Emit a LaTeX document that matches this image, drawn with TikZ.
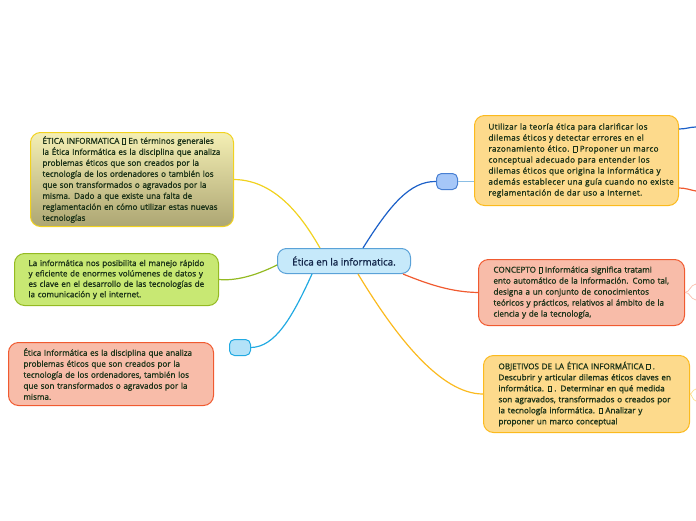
\documentclass[tikz,border=0pt]{standalone}
\usepackage{fontspec}
\setmainfont{Open Sans}
\newfontfamily\boxfont{Open Sans}[FakeBold=1.3]
\newfontfamily\widefont{Open Sans}[FakeBold=1.3, LetterSpace=4]
\definecolor{txt}{HTML}{1C3319}
\definecolor{navy}{HTML}{14284B}
\definecolor{cenfill}{HTML}{C6E9FA}
\definecolor{cenline}{HTML}{5AA2D8}
\definecolor{olivetop}{HTML}{F4EFB4}
\definecolor{olivebot}{HTML}{ADA673}
\definecolor{yelline}{HTML}{F1D21F}
\definecolor{greenfill}{HTML}{C8E873}
\definecolor{greenline}{HTML}{94BA22}
\definecolor{salfill}{HTML}{F8BCA9}
\definecolor{salline}{HTML}{F05A30}
\definecolor{orfill}{HTML}{FDDA8C}
\definecolor{orline}{HTML}{FBBA1E}
\definecolor{bluefill}{HTML}{A6C7F8}
\definecolor{blueline}{HTML}{1C60C8}
\definecolor{skyfill}{HTML}{B3E2F8}
\definecolor{skyline}{HTML}{22AAE2}
\newcommand{\nochar}{{\setlength{\fboxrule}{0.35pt}\setlength{\fboxsep}{0pt}\fbox{\rule{0pt}{0.62em}\hspace{0.36em}}}}
\hyphenpenalty=10000
\begin{document}
\begin{tikzpicture}[x=1pt, y=-1pt,
    box/.style={draw, rounded corners=10pt, line width=1pt, anchor=north west,
                align=left, inner xsep=0pt, inner ysep=0pt, text=txt,
                font=\boxfont\fontsize{8.1}{11}\selectfont},
    tag/.style={draw, rounded corners=5pt, line width=1pt, anchor=north west,
                inner sep=0pt},
    link/.style={line width=1.2pt},
    thin link/.style={line width=0.7pt}
]
\useasboundingbox (0,0) rectangle (696,520);

% Nodo central
\node[draw=cenline, fill=cenfill, rounded corners=9pt, line width=1pt,
      minimum width=133pt, minimum height=25pt, inner sep=0pt, anchor=north west,
      text=navy, font=\boxfont\fontsize{9.8}{11}\selectfont] (cen) at (277,248)
    {Ética en la informatica.};

% Ramas de la izquierda
\node[box, draw=yelline, top color=olivetop, bottom color=olivebot,
      minimum height=94pt, text width=203pt] (etica) at (30,132)
    {\hspace{12pt}ÉTICA INFORMATICA \nochar\ En términos generales\\
     \hspace{12pt}la Ética Informática es la disciplina que analiza\\
     \hspace{12pt}problemas éticos que son creados por la\\
     \hspace{12pt}tecnología de los ordenadores o también los\\
     \hspace{12pt}que son transformados o agravados por la\\
     \hspace{12pt}misma. Dado a que existe una falta de\\
     \hspace{12pt}reglamentación en cómo utilizar estas nuevas\\
     \hspace{12pt}tecnologías};
\node[box, draw=greenline, fill=greenfill, font=\boxfont\fontsize{8.1}{10.4}\selectfont,
      minimum height=52pt, text width=204pt] (datos) at (14,253)
    {\hspace{14pt}La informática nos posibilita el manejo rápido\\
     \hspace{14pt}y eficiente de enormes volúmenes de datos y\\
     \hspace{14pt}es clave en el desarrollo de las tecnologías de\\
     \hspace{14pt}la comunicación y el internet.};
\node[tag, draw=skyline, fill=skyfill, minimum width=21pt, minimum height=16pt] (sky) at (229,339) {};
\node[box, draw=salline, fill=salfill,
      minimum height=63pt, text width=205pt] (disc) at (8,342)
    {\hspace{15pt}Ética Informática es la disciplina que analiza\\
     \hspace{15pt}problemas éticos que son creados por la\\
     \hspace{15pt}tecnología de los ordenadores, también los\\
     \hspace{15pt}que son transformados o agravados por la\\
     \hspace{15pt}misma.};

% Ramas de la derecha
\node[tag, draw=blueline!80, fill=bluefill, minimum width=21pt, minimum height=16pt] (azul) at (436,173) {};
\node[box, draw=orline, fill=orfill, font=\widefont\fontsize{8.1}{11}\selectfont,
      minimum height=90pt, text width=204pt] (teoria) at (474,115)
    {\hspace{14pt}Utilizar la teoría ética para clarificar los\\
     \hspace{14pt}dilemas éticos y detectar errores en el\\
     \hspace{14pt}razonamiento ético. \nochar\ Proponer un marco\\
     \hspace{14pt}conceptual adecuado para entender los\\
     \hspace{14pt}dilemas éticos que origina la informática y\\
     \hspace{14pt}además establecer una guía cuando no existe\\
     \hspace{14pt}reglamentación de dar uso a Internet.};
\node[box, draw=salline, fill=salfill,
      minimum height=66pt, text width=206pt] (concepto) at (478,259)
    {\hspace{15pt}CONCEPTO \nochar\ Informática significa tratami\\
     \hspace{15pt}ento automático de la información. Como tal,\\
     \hspace{15pt}designa a un conjunto de conocimientos\\
     \hspace{15pt}teóricos y prácticos, relativos al ámbito de la\\
     \hspace{15pt}ciencia y de la tecnología,};
\node[box, draw=orline, fill=orfill,
      minimum height=77pt, text width=206pt] (objetivos) at (483,355)
    {\hspace{15pt}OBJETIVOS DE LA ÉTICA INFORMÁTICA \nochar\ .\\
     \hspace{15pt}Descubrir y articular dilemas éticos claves en\\
     \hspace{15pt}informática. \nochar\ . Determinar en qué medida\\
     \hspace{15pt}son agravados, transformados o creados por\\
     \hspace{15pt}la tecnología informática. \nochar\ Analizar y\\
     \hspace{15pt}proponer un marco conceptual};

% Extremos fuera del cuadro
\coordinate (out1) at (696,127);
\coordinate (out2) at (696,191);
\coordinate (out3) at (696,284);
\coordinate (out4) at (696,300);
\coordinate (out5) at (696,389);
\coordinate (out6) at (696,401);

% Conectores
\draw[link, yelline] ([xshift=-24pt]cen.north) .. controls (305,222) and (278,180) .. (etica.east);
\draw[link, greenline] ([yshift=-4pt]cen.west) .. controls (255,276) and (235,281) .. (datos.east);
\draw[link, skyline] ([xshift=-32pt]cen.south) .. controls (292,318) and (275,347) .. (sky.east);
\draw[link, blueline] ([xshift=19pt]cen.north) .. controls (390,205) and (410,181) .. (azul.west);
\draw[link, cenline!70] (azul.east) -- (teoria.west |- azul.east);
\draw[link, salline] ([xshift=-8pt]cen.south east) .. controls (430,285) and (452,292) .. (concepto.west);
\draw[link, orline] ([xshift=14pt]cen.south) .. controls (395,335) and (440,394) .. (objetivos.west);
\draw[link, blueline] ([yshift=-14pt]teoria.north east) .. controls (686,129) and (690,127) .. (out1);
\draw[link, salline] ([yshift=18pt]teoria.south east) .. controls (686,188) and (690,190) .. (out2);
\draw[thin link, salline!40] (concepto.east) .. controls (690,292) and (690,285) .. (out3);
\draw[thin link, salline!40] (concepto.east) .. controls (690,292) and (690,299) .. (out4);
\draw[thin link, orline!50] (objetivos.east) .. controls (692,394) and (692,390) .. (out5);
\draw[thin link, orline!50] (objetivos.east) .. controls (692,394) and (692,400) .. (out6);

\end{tikzpicture}
\end{document}
